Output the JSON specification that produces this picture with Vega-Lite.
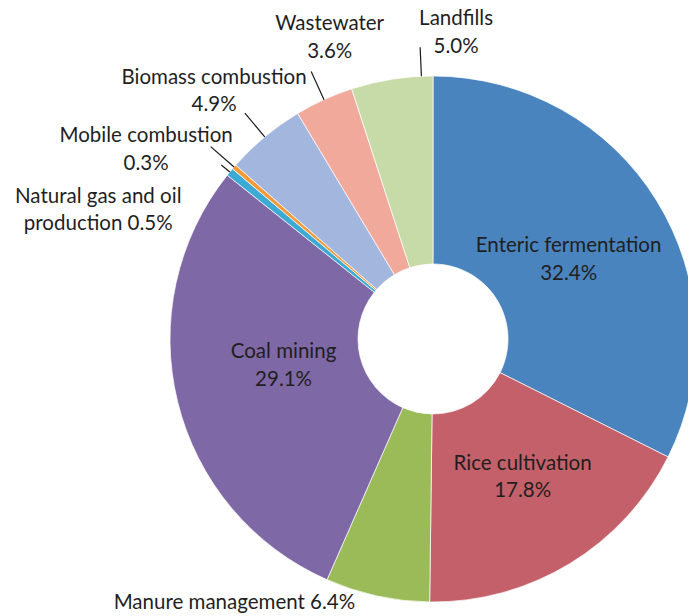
{
  "$schema": "https://vega.github.io/schema/vega-lite/v6.json",
  "width": 866,
  "height": 678,
  "autosize": "none",
  "padding": 0,
  "background": "white",
  "config": {"view": {"stroke": null}},
  "data": {
    "values": [
      {"source": "Enteric fermentation", "value": 32.4, "order": 1, "label": "Enteric fermentation\n32.4%"},
      {"source": "Rice cultivation", "value": 17.8, "order": 2, "label": "Rice cultivation\n17.8%"},
      {"source": "Manure management", "value": 6.4, "order": 3, "label": "Manure management 6.4%"},
      {"source": "Coal mining", "value": 29.1, "order": 4, "label": "Coal mining\n29.1%"},
      {"source": "Natural gas and oil production", "value": 0.5, "order": 5, "label": "Natural gas and oil\nproduction 0.5%"},
      {"source": "Mobile combustion", "value": 0.3, "order": 6, "label": "Mobile combustion\n0.3%"},
      {"source": "Biomass combustion", "value": 4.9, "order": 7, "label": "Biomass combustion\n4.9%"},
      {"source": "Wastewater", "value": 3.6, "order": 8, "label": "Wastewater\n3.6%"},
      {"source": "Landfills", "value": 5.0, "order": 9, "label": "Landfills\n5.0%"}
    ]
  },
  "transform": [
    {"stack": "value", "groupby": [], "sort": [{"field": "order", "order": "ascending"}], "as": ["v0", "v1"]},
    {"calculate": "(datum.v0 + datum.v1) / 2", "as": "mid"}
  ],
  "layer": [
    {
      "mark": {"type": "arc", "outerRadius": 263, "innerRadius": 75, "stroke": "white", "strokeWidth": 0.7},
      "encoding": {
        "theta": {"field": "v0", "type": "quantitative", "scale": {"domain": [0, 100]}},
        "theta2": {"field": "v1"},
        "color": {
          "field": "source",
          "type": "nominal",
          "legend": null,
          "scale": {
            "domain": ["Enteric fermentation", "Rice cultivation", "Manure management", "Coal mining", "Natural gas and oil production", "Mobile combustion", "Biomass combustion", "Wastewater", "Landfills"],
            "range": ["#4a84bf", "#c4606a", "#9bbb59", "#7f68a6", "#3caad5", "#f39a3a", "#a3b6de", "#f0a99b", "#c6dba7"]
          }
        }
      }
    },
    {
      "transform": [{"filter": {"field": "source", "oneOf": ["Wastewater", "Biomass combustion", "Mobile combustion"]}}],
      "mark": {"type": "arc", "innerRadius": 263, "outerRadius": 294, "fill": null, "stroke": "#1a1a1a", "strokeWidth": 1.2},
      "encoding": {"theta": {"field": "mid", "type": "quantitative"}, "theta2": {"field": "mid"}}
    },
    {
      "transform": [{"filter": {"field": "source", "equal": "Natural gas and oil production"}}],
      "mark": {"type": "arc", "innerRadius": 263, "outerRadius": 274, "fill": null, "stroke": "#1a1a1a", "strokeWidth": 1.2},
      "encoding": {"theta": {"field": "mid", "type": "quantitative"}, "theta2": {"field": "mid"}}
    },
    {
      "transform": [{"filter": {"field": "source", "equal": "Landfills"}}],
      "mark": {"type": "arc", "innerRadius": 263, "outerRadius": 292, "thetaOffset": 0.113, "theta2Offset": 0.113, "fill": null, "stroke": "#1a1a1a", "strokeWidth": 1.2},
      "encoding": {"theta": {"field": "mid", "type": "quantitative"}, "theta2": {"field": "mid"}}
    },
    {
      "transform": [{"filter": {"field": "source", "equal": "Enteric fermentation"}}],
      "mark": {"type": "text", "font": "Lato", "fontSize": 20.5, "color": "#1f1f1f", "lineBreak": "\n", "lineHeight": 27.5, "align": "center", "baseline": "middle", "radius": 157, "dx": 2, "dy": -10.5},
      "encoding": {"theta": {"field": "mid", "type": "quantitative"}, "text": {"field": "label"}}
    },
    {
      "transform": [{"filter": {"field": "source", "equal": "Rice cultivation"}}],
      "mark": {"type": "text", "font": "Lato", "fontSize": 20.5, "color": "#1f1f1f", "lineBreak": "\n", "lineHeight": 27.5, "align": "center", "baseline": "middle", "radius": 157, "dx": 8, "dy": -9.5},
      "encoding": {"theta": {"field": "mid", "type": "quantitative"}, "text": {"field": "label"}}
    },
    {
      "transform": [{"filter": {"field": "source", "equal": "Coal mining"}}],
      "mark": {"type": "text", "font": "Lato", "fontSize": 20.5, "color": "#1f1f1f", "lineBreak": "\n", "lineHeight": 27.5, "align": "center", "baseline": "middle", "radius": 157, "dx": 3, "dy": -24.5},
      "encoding": {"theta": {"field": "mid", "type": "quantitative"}, "text": {"field": "label"}}
    },
    {
      "transform": [{"filter": {"field": "source", "equal": "Manure management"}}],
      "mark": {"type": "text", "font": "Lato", "fontSize": 20.5, "color": "#1f1f1f", "lineBreak": "\n", "lineHeight": 27.5, "align": "center", "baseline": "middle", "radius": 300, "dx": -135, "dy": -29},
      "encoding": {"theta": {"field": "mid", "type": "quantitative"}, "text": {"field": "label"}}
    },
    {
      "transform": [{"filter": {"field": "source", "equal": "Natural gas and oil production"}}],
      "mark": {"type": "text", "font": "Lato", "fontSize": 20.5, "color": "#1f1f1f", "lineBreak": "\n", "lineHeight": 27.5, "align": "center", "baseline": "middle", "radius": 300, "dx": -103, "dy": 48.5},
      "encoding": {"theta": {"field": "mid", "type": "quantitative"}, "text": {"field": "label"}}
    },
    {
      "transform": [{"filter": {"field": "source", "equal": "Mobile combustion"}}],
      "mark": {"type": "text", "font": "Lato", "fontSize": 20.5, "color": "#1f1f1f", "lineBreak": "\n", "lineHeight": 27.5, "align": "center", "baseline": "middle", "radius": 300, "dx": -60, "dy": -6.5},
      "encoding": {"theta": {"field": "mid", "type": "quantitative"}, "text": {"field": "label"}}
    },
    {
      "transform": [{"filter": {"field": "source", "equal": "Biomass combustion"}}],
      "mark": {"type": "text", "font": "Lato", "fontSize": 20.5, "color": "#1f1f1f", "lineBreak": "\n", "lineHeight": 27.5, "align": "center", "baseline": "middle", "radius": 300, "dx": -27, "dy": -30.5},
      "encoding": {"theta": {"field": "mid", "type": "quantitative"}, "text": {"field": "label"}}
    },
    {
      "transform": [{"filter": {"field": "source", "equal": "Wastewater"}}],
      "mark": {"type": "text", "font": "Lato", "fontSize": 20.5, "color": "#1f1f1f", "lineBreak": "\n", "lineHeight": 27.5, "align": "center", "baseline": "middle", "radius": 300, "dx": 21, "dy": -41.5},
      "encoding": {"theta": {"field": "mid", "type": "quantitative"}, "text": {"field": "label"}}
    },
    {
      "transform": [{"filter": {"field": "source", "equal": "Landfills"}}],
      "mark": {"type": "text", "font": "Lato", "fontSize": 20.5, "color": "#1f1f1f", "lineBreak": "\n", "lineHeight": 27.5, "align": "center", "baseline": "middle", "radius": 300, "dx": 70, "dy": -23.5},
      "encoding": {"theta": {"field": "mid", "type": "quantitative"}, "text": {"field": "label"}}
    }
  ]
}
